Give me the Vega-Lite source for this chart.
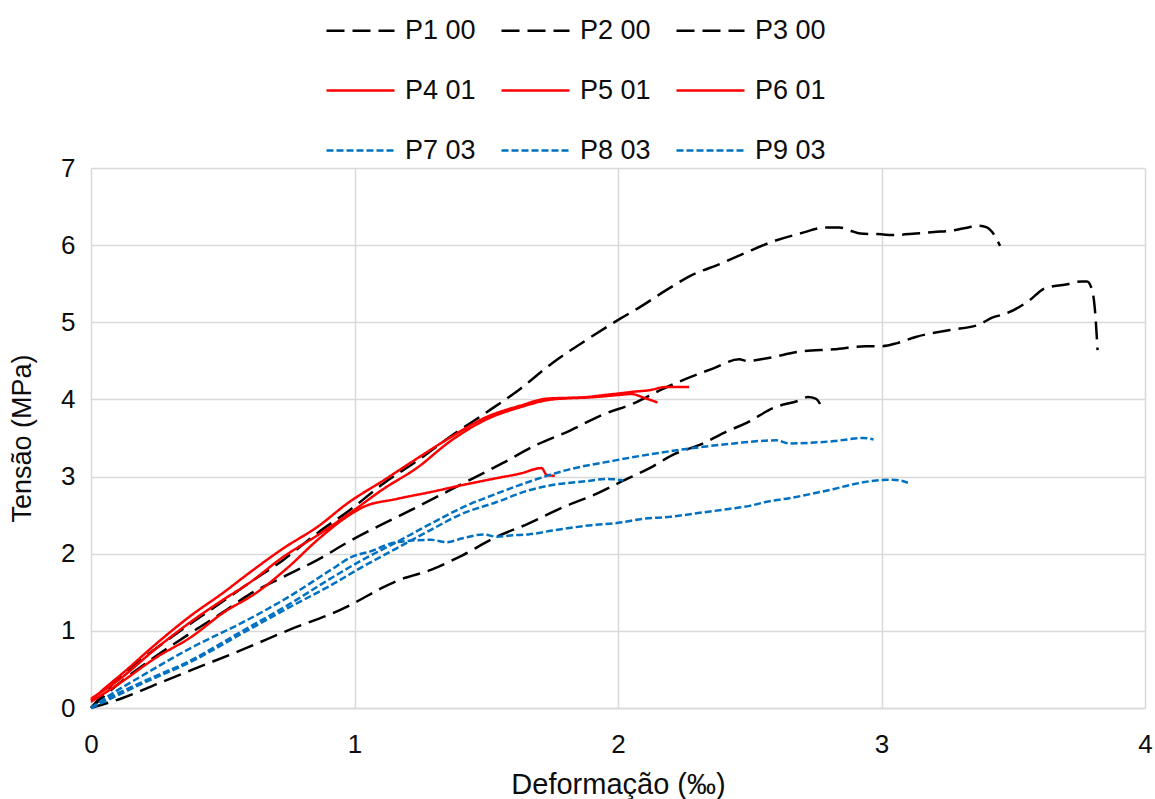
{
  "$schema": "https://vega.github.io/schema/vega-lite/v6.json",
  "autosize": {"type": "none"},
  "width": 1054,
  "height": 540,
  "padding": {"left": 91, "top": 168, "right": 10, "bottom": 91},
  "background": "white",
  "config": {
    "font": "Liberation Sans",
    "view": {"stroke": null},
    "axis": {
      "labelFont": "Liberation Sans",
      "titleFont": "Liberation Sans",
      "labelFontSize": 26,
      "titleFontSize": 27,
      "labelColor": "#0d0d0d",
      "titleColor": "#0d0d0d",
      "titleFontWeight": "normal",
      "gridColor": "#D9D9D9",
      "gridWidth": 1.5,
      "ticks": false,
      "labelFlush": false
    },
    "legend": {
      "labelFont": "Liberation Sans",
      "labelFontSize": 27,
      "labelColor": "#0d0d0d"
    }
  },
  "data": {
    "values": [
      {"s":"P1 00","x":0,"y":0},{"s":"P1 00","x":0.03,"y":0.12},{"s":"P1 00","x":0.12,"y":0.43},{"s":"P1 00","x":0.25,"y":0.78},{"s":"P1 00","x":0.38,"y":1.1},{"s":"P1 00","x":0.5,"y":1.38},{"s":"P1 00","x":0.6,"y":1.62},{"s":"P1 00","x":0.73,"y":1.92},{"s":"P1 00","x":0.86,"y":2.27},{"s":"P1 00","x":0.98,"y":2.56},{"s":"P1 00","x":1.11,"y":2.91},{"s":"P1 00","x":1.24,"y":3.21},{"s":"P1 00","x":1.36,"y":3.51},{"s":"P1 00","x":1.5,"y":3.83},{"s":"P1 00","x":1.63,"y":4.14},{"s":"P1 00","x":1.75,"y":4.47},{"s":"P1 00","x":1.88,"y":4.77},{"s":"P1 00","x":2.01,"y":5.05},{"s":"P1 00","x":2.08,"y":5.19},{"s":"P1 00","x":2.18,"y":5.41},{"s":"P1 00","x":2.28,"y":5.61},{"s":"P1 00","x":2.39,"y":5.76},{"s":"P1 00","x":2.49,"y":5.91},{"s":"P1 00","x":2.59,"y":6.05},{"s":"P1 00","x":2.69,"y":6.15},{"s":"P1 00","x":2.79,"y":6.23},{"s":"P1 00","x":2.84,"y":6.23},{"s":"P1 00","x":2.88,"y":6.19},{"s":"P1 00","x":2.92,"y":6.15},{"s":"P1 00","x":3.0,"y":6.14},{"s":"P1 00","x":3.04,"y":6.13},{"s":"P1 00","x":3.13,"y":6.15},{"s":"P1 00","x":3.2,"y":6.17},{"s":"P1 00","x":3.27,"y":6.19},{"s":"P1 00","x":3.33,"y":6.23},{"s":"P1 00","x":3.37,"y":6.25},{"s":"P1 00","x":3.4,"y":6.23},{"s":"P1 00","x":3.42,"y":6.17},{"s":"P1 00","x":3.45,"y":5.99},
      {"s":"P2 00","x":0,"y":0},{"s":"P2 00","x":0.1,"y":0.3},{"s":"P2 00","x":0.25,"y":0.68},{"s":"P2 00","x":0.4,"y":1.02},{"s":"P2 00","x":0.5,"y":1.24},{"s":"P2 00","x":0.6,"y":1.47},{"s":"P2 00","x":0.73,"y":1.7},{"s":"P2 00","x":0.86,"y":1.92},{"s":"P2 00","x":0.98,"y":2.16},{"s":"P2 00","x":1.11,"y":2.39},{"s":"P2 00","x":1.24,"y":2.61},{"s":"P2 00","x":1.36,"y":2.82},{"s":"P2 00","x":1.44,"y":2.96},{"s":"P2 00","x":1.56,"y":3.17},{"s":"P2 00","x":1.69,"y":3.41},{"s":"P2 00","x":1.82,"y":3.6},{"s":"P2 00","x":1.94,"y":3.8},{"s":"P2 00","x":2.06,"y":3.95},{"s":"P2 00","x":2.16,"y":4.12},{"s":"P2 00","x":2.26,"y":4.27},{"s":"P2 00","x":2.36,"y":4.4},{"s":"P2 00","x":2.46,"y":4.52},{"s":"P2 00","x":2.49,"y":4.5},{"s":"P2 00","x":2.56,"y":4.53},{"s":"P2 00","x":2.69,"y":4.62},{"s":"P2 00","x":2.82,"y":4.65},{"s":"P2 00","x":2.94,"y":4.69},{"s":"P2 00","x":3.0,"y":4.69},{"s":"P2 00","x":3.06,"y":4.73},{"s":"P2 00","x":3.13,"y":4.81},{"s":"P2 00","x":3.26,"y":4.9},{"s":"P2 00","x":3.37,"y":4.97},{"s":"P2 00","x":3.42,"y":5.06},{"s":"P2 00","x":3.47,"y":5.11},{"s":"P2 00","x":3.56,"y":5.28},{"s":"P2 00","x":3.62,"y":5.44},{"s":"P2 00","x":3.7,"y":5.49},{"s":"P2 00","x":3.76,"y":5.53},{"s":"P2 00","x":3.78,"y":5.53},{"s":"P2 00","x":3.8,"y":5.41},{"s":"P2 00","x":3.81,"y":5.16},{"s":"P2 00","x":3.82,"y":4.64},
      {"s":"P3 00","x":0,"y":0},{"s":"P3 00","x":0.12,"y":0.13},{"s":"P3 00","x":0.25,"y":0.31},{"s":"P3 00","x":0.38,"y":0.49},{"s":"P3 00","x":0.57,"y":0.75},{"s":"P3 00","x":0.75,"y":1.01},{"s":"P3 00","x":0.97,"y":1.31},{"s":"P3 00","x":1.02,"y":1.4},{"s":"P3 00","x":1.1,"y":1.55},{"s":"P3 00","x":1.17,"y":1.66},{"s":"P3 00","x":1.29,"y":1.79},{"s":"P3 00","x":1.41,"y":1.98},{"s":"P3 00","x":1.54,"y":2.22},{"s":"P3 00","x":1.66,"y":2.39},{"s":"P3 00","x":1.79,"y":2.6},{"s":"P3 00","x":1.92,"y":2.78},{"s":"P3 00","x":2.01,"y":2.93},{"s":"P3 00","x":2.12,"y":3.11},{"s":"P3 00","x":2.22,"y":3.3},{"s":"P3 00","x":2.31,"y":3.41},{"s":"P3 00","x":2.41,"y":3.58},{"s":"P3 00","x":2.49,"y":3.7},{"s":"P3 00","x":2.59,"y":3.89},{"s":"P3 00","x":2.69,"y":3.99},{"s":"P3 00","x":2.72,"y":4.03},{"s":"P3 00","x":2.75,"y":4.01},{"s":"P3 00","x":2.78,"y":3.85},
      {"s":"P4 01","x":0,"y":0.1},{"s":"P4 01","x":0.05,"y":0.25},{"s":"P4 01","x":0.12,"y":0.45},{"s":"P4 01","x":0.25,"y":0.84},{"s":"P4 01","x":0.38,"y":1.2},{"s":"P4 01","x":0.5,"y":1.49},{"s":"P4 01","x":0.6,"y":1.75},{"s":"P4 01","x":0.73,"y":2.07},{"s":"P4 01","x":0.86,"y":2.35},{"s":"P4 01","x":0.98,"y":2.67},{"s":"P4 01","x":1.11,"y":2.95},{"s":"P4 01","x":1.24,"y":3.24},{"s":"P4 01","x":1.36,"y":3.5},{"s":"P4 01","x":1.5,"y":3.77},{"s":"P4 01","x":1.63,"y":3.92},{"s":"P4 01","x":1.73,"y":4.01},{"s":"P4 01","x":1.88,"y":4.03},{"s":"P4 01","x":1.93,"y":4.05},{"s":"P4 01","x":2.01,"y":4.08},{"s":"P4 01","x":2.06,"y":4.1},{"s":"P4 01","x":2.12,"y":4.12},{"s":"P4 01","x":2.18,"y":4.16},{"s":"P4 01","x":2.27,"y":4.16},
      {"s":"P5 01","x":0,"y":0.12},{"s":"P5 01","x":0.1,"y":0.35},{"s":"P5 01","x":0.25,"y":0.78},{"s":"P5 01","x":0.38,"y":1.12},{"s":"P5 01","x":0.5,"y":1.4},{"s":"P5 01","x":0.6,"y":1.62},{"s":"P5 01","x":0.73,"y":1.96},{"s":"P5 01","x":0.86,"y":2.24},{"s":"P5 01","x":0.98,"y":2.52},{"s":"P5 01","x":1.11,"y":2.84},{"s":"P5 01","x":1.24,"y":3.12},{"s":"P5 01","x":1.36,"y":3.45},{"s":"P5 01","x":1.5,"y":3.74},{"s":"P5 01","x":1.63,"y":3.9},{"s":"P5 01","x":1.75,"y":4.0},{"s":"P5 01","x":1.91,"y":4.03},{"s":"P5 01","x":2.01,"y":4.06},{"s":"P5 01","x":2.05,"y":4.07},{"s":"P5 01","x":2.1,"y":4.02},{"s":"P5 01","x":2.15,"y":3.96},
      {"s":"P6 01","x":0,"y":0.08},{"s":"P6 01","x":0.1,"y":0.3},{"s":"P6 01","x":0.25,"y":0.66},{"s":"P6 01","x":0.38,"y":0.92},{"s":"P6 01","x":0.5,"y":1.23},{"s":"P6 01","x":0.63,"y":1.5},{"s":"P6 01","x":0.75,"y":1.83},{"s":"P6 01","x":0.86,"y":2.18},{"s":"P6 01","x":0.98,"y":2.5},{"s":"P6 01","x":1.03,"y":2.6},{"s":"P6 01","x":1.16,"y":2.71},{"s":"P6 01","x":1.29,"y":2.8},{"s":"P6 01","x":1.41,"y":2.89},{"s":"P6 01","x":1.54,"y":2.98},{"s":"P6 01","x":1.63,"y":3.04},{"s":"P6 01","x":1.71,"y":3.11},{"s":"P6 01","x":1.73,"y":3.02},{"s":"P6 01","x":1.76,"y":3.01},
      {"s":"P7 03","x":0,"y":0},{"s":"P7 03","x":0.05,"y":0.1},{"s":"P7 03","x":0.19,"y":0.33},{"s":"P7 03","x":0.38,"y":0.62},{"s":"P7 03","x":0.57,"y":0.99},{"s":"P7 03","x":0.75,"y":1.34},{"s":"P7 03","x":0.91,"y":1.68},{"s":"P7 03","x":1.03,"y":1.92},{"s":"P7 03","x":1.16,"y":2.15},{"s":"P7 03","x":1.29,"y":2.39},{"s":"P7 03","x":1.41,"y":2.6},{"s":"P7 03","x":1.54,"y":2.78},{"s":"P7 03","x":1.66,"y":2.93},{"s":"P7 03","x":1.8,"y":3.08},{"s":"P7 03","x":1.99,"y":3.21},{"s":"P7 03","x":2.18,"y":3.32},{"s":"P7 03","x":2.31,"y":3.38},{"s":"P7 03","x":2.44,"y":3.43},{"s":"P7 03","x":2.6,"y":3.47},{"s":"P7 03","x":2.65,"y":3.43},{"s":"P7 03","x":2.82,"y":3.46},{"s":"P7 03","x":2.93,"y":3.5},{"s":"P7 03","x":2.97,"y":3.48},
      {"s":"P8 03","x":0,"y":0},{"s":"P8 03","x":0.05,"y":0.08},{"s":"P8 03","x":0.19,"y":0.31},{"s":"P8 03","x":0.38,"y":0.6},{"s":"P8 03","x":0.57,"y":0.96},{"s":"P8 03","x":0.75,"y":1.3},{"s":"P8 03","x":0.91,"y":1.59},{"s":"P8 03","x":1.03,"y":1.83},{"s":"P8 03","x":1.16,"y":2.07},{"s":"P8 03","x":1.29,"y":2.31},{"s":"P8 03","x":1.41,"y":2.52},{"s":"P8 03","x":1.54,"y":2.67},{"s":"P8 03","x":1.66,"y":2.82},{"s":"P8 03","x":1.75,"y":2.89},{"s":"P8 03","x":1.88,"y":2.94},{"s":"P8 03","x":1.96,"y":2.97},{"s":"P8 03","x":2.02,"y":2.95},
      {"s":"P9 03","x":0,"y":0},{"s":"P9 03","x":0.05,"y":0.12},{"s":"P9 03","x":0.19,"y":0.41},{"s":"P9 03","x":0.38,"y":0.78},{"s":"P9 03","x":0.57,"y":1.1},{"s":"P9 03","x":0.75,"y":1.44},{"s":"P9 03","x":0.91,"y":1.79},{"s":"P9 03","x":0.99,"y":1.96},{"s":"P9 03","x":1.06,"y":2.03},{"s":"P9 03","x":1.16,"y":2.15},{"s":"P9 03","x":1.29,"y":2.18},{"s":"P9 03","x":1.35,"y":2.15},{"s":"P9 03","x":1.41,"y":2.2},{"s":"P9 03","x":1.49,"y":2.25},{"s":"P9 03","x":1.54,"y":2.22},{"s":"P9 03","x":1.6,"y":2.24},{"s":"P9 03","x":1.66,"y":2.25},{"s":"P9 03","x":1.75,"y":2.3},{"s":"P9 03","x":1.9,"y":2.37},{"s":"P9 03","x":2.0,"y":2.4},{"s":"P9 03","x":2.09,"y":2.45},{"s":"P9 03","x":2.2,"y":2.48},{"s":"P9 03","x":2.31,"y":2.53},{"s":"P9 03","x":2.42,"y":2.58},{"s":"P9 03","x":2.5,"y":2.62},{"s":"P9 03","x":2.56,"y":2.67},{"s":"P9 03","x":2.65,"y":2.72},{"s":"P9 03","x":2.74,"y":2.78},{"s":"P9 03","x":2.82,"y":2.84},{"s":"P9 03","x":2.88,"y":2.89},{"s":"P9 03","x":2.98,"y":2.95},{"s":"P9 03","x":3.04,"y":2.96},{"s":"P9 03","x":3.07,"y":2.95},{"s":"P9 03","x":3.1,"y":2.92}
    ]
  },
  "mark": {"type": "line", "strokeWidth": 2.5, "interpolate": "monotone"},
  "encoding": {
    "x": {
      "field": "x", "type": "quantitative",
      "scale": {"domain": [0, 4], "nice": false},
      "axis": {"values": [0, 1, 2, 3, 4], "title": "Deformação (‰)", "titleFontSize": 29, "labelPadding": 23, "titlePadding": 13, "domainColor": "#D9D9D9", "domainWidth": 1.5}
    },
    "y": {
      "field": "y", "type": "quantitative",
      "scale": {"domain": [0, 7], "nice": false},
      "axis": {"values": [0, 1, 2, 3, 4, 5, 6, 7], "title": "Tensão (MPa)", "labelPadding": 16, "titlePadding": 24, "domain": false}
    },
    "color": {
      "field": "s", "type": "nominal",
      "scale": {
        "domain": ["P1 00", "P2 00", "P3 00", "P4 01", "P5 01", "P6 01", "P7 03", "P8 03", "P9 03"],
        "range": ["#000000", "#000000", "#000000", "#FF0000", "#FF0000", "#FF0000", "#0070C0", "#0070C0", "#0070C0"]
      },
      "legend": {
        "title": null,
        "orient": "none",
        "legendX": 234,
        "legendY": -173,
        "direction": "horizontal",
        "columns": 3,
        "symbolType": "stroke",
        "symbolSize": 4624,
        "symbolStrokeWidth": 2.5,
        "labelOffset": 9,
        "columnPadding": 20,
        "rowPadding": 11
      }
    },
    "strokeDash": {
      "field": "s", "type": "nominal",
      "scale": {
        "domain": ["P1 00", "P2 00", "P3 00", "P4 01", "P5 01", "P6 01", "P7 03", "P8 03", "P9 03"],
        "range": [[18, 8], [18, 8], [18, 8], [1, 0], [1, 0], [1, 0], [7, 3], [7, 3], [7, 3]]
      },
      "legend": null
    }
  }
}
